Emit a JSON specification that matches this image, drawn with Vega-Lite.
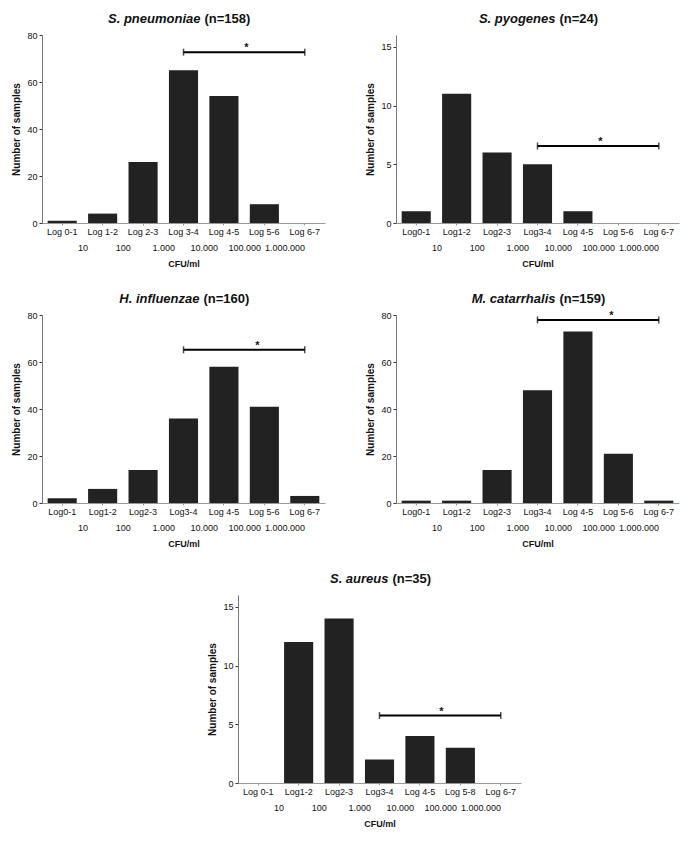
{
 "$schema": "https://vega.github.io/schema/vega-lite/v6.json",
 "background": "white",
 "padding": {"left": 11, "top": 12, "right": 5, "bottom": 5},
 "datasets": {
  "pn": [{"cat":"Log 0-1","n":1},{"cat":"Log 1-2","n":4},{"cat":"Log 2-3","n":26},{"cat":"Log 3-4","n":65},{"cat":"Log 4-5","n":54},{"cat":"Log 5-6","n":8},{"cat":"Log 6-7","n":0}],
  "py": [{"cat":"Log0-1","n":1},{"cat":"Log1-2","n":11},{"cat":"Log2-3","n":6},{"cat":"Log3-4","n":5},{"cat":"Log 4-5","n":1},{"cat":"Log 5-6","n":0},{"cat":"Log 6-7","n":0}],
  "hi": [{"cat":"Log0-1","n":2},{"cat":"Log1-2","n":6},{"cat":"Log2-3","n":14},{"cat":"Log3-4","n":36},{"cat":"Log 4-5","n":58},{"cat":"Log 5-6","n":41},{"cat":"Log 6-7","n":3}],
  "mc": [{"cat":"Log0-1","n":1},{"cat":"Log1-2","n":1},{"cat":"Log2-3","n":14},{"cat":"Log3-4","n":48},{"cat":"Log 4-5","n":73},{"cat":"Log 5-6","n":21},{"cat":"Log 6-7","n":1}],
  "sa": [{"cat":"Log 0-1","n":0},{"cat":"Log1-2","n":12},{"cat":"Log2-3","n":14},{"cat":"Log3-4","n":2},{"cat":"Log 4-5","n":4},{"cat":"Log 5-8","n":3},{"cat":"Log 6-7","n":0}],
  "sig": [
   {"org":"pn","from":"Log 3-4","to":"Log 6-7","mid":"Log 5-6","y":72.7,"star":"*"},
   {"org":"py","from":"Log3-4","to":"Log 6-7","mid":"Log 5-6","y":6.55,"star":"*"},
   {"org":"hi","from":"Log3-4","to":"Log 6-7","mid":"Log 5-6","y":65.2,"star":"*"},
   {"org":"mc","from":"Log3-4","to":"Log 6-7","mid":"Log 5-6","y":77.9,"star":"*"},
   {"org":"sa","from":"Log3-4","to":"Log 6-7","mid":"Log 5-8","y":5.74,"star":"*"}
  ],
  "cfu": [{"v":"10"},{"v":"100"},{"v":"1.000"},{"v":"10.000"},{"v":"100.000"},{"v":"1.000.000"}]
 },
 "config": {
  "font": "Liberation Sans",
  "view": {"stroke": null},
  "axis": {"grid": false, "labelColor": "#111", "titleColor": "#111"}
 },
 "spacing": 24,
 "vconcat": [
  {"hconcat": [
   {"width": 283, "height": 188,
    "layer": [
     {"data": {"name": "pn"}, "mark": {"type": "bar", "color": "#222"},
      "encoding": {
       "x": {"field": "cat", "type": "nominal", "scale": {"domain": ["Log 0-1","Log 1-2","Log 2-3","Log 3-4","Log 4-5","Log 5-6","Log 6-7"], "paddingInner": 0.28, "paddingOuter": 0.14},
             "axis": {"title": null, "labelAngle": 0, "labelFontSize": 9, "labelPadding": 2, "tickSize": 2, "tickColor": "#999", "domainColor": "#999"}},
       "y": {"field": "n", "type": "quantitative", "scale": {"domain": [0, 80]},
             "axis": {"title": "Number of samples", "values": [0,20,40,60,80], "titleFontSize": 10, "titleFontWeight": "bold", "titlePadding": 5, "labelFontSize": 9, "labelPadding": 2, "tickSize": 3, "tickColor": "#333", "domainColor": "#777"}}}},
     {"data": {"name": "sig"}, "transform": [{"filter": "datum.org === 'pn'"}], "mark": {"type": "rule", "color": "#000", "strokeWidth": 2},
      "encoding": {"x": {"field": "from", "type": "nominal", "scale": {"domain": ["Log 0-1","Log 1-2","Log 2-3","Log 3-4","Log 4-5","Log 5-6","Log 6-7"], "paddingInner": 0.28, "paddingOuter": 0.14}, "axis": null}, "x2": {"field": "to"}, "y": {"field": "y", "type": "quantitative"}}},
     {"data": {"name": "sig"}, "transform": [{"filter": "datum.org === 'pn'"}, {"fold": ["from", "to"]}], "mark": {"type": "tick", "orient": "vertical", "color": "#000", "size": 7, "thickness": 1.5},
      "encoding": {"x": {"field": "value", "type": "nominal", "scale": {"domain": ["Log 0-1","Log 1-2","Log 2-3","Log 3-4","Log 4-5","Log 5-6","Log 6-7"], "paddingInner": 0.28, "paddingOuter": 0.14}, "axis": null}, "y": {"field": "y", "type": "quantitative"}}},
     {"data": {"name": "sig"}, "transform": [{"filter": "datum.org === 'pn'"}], "mark": {"type": "text", "fontSize": 11, "fontWeight": "bold", "dx": -18, "dy": -4, "color": "#111"},
      "encoding": {"x": {"field": "mid", "type": "nominal", "scale": {"domain": ["Log 0-1","Log 1-2","Log 2-3","Log 3-4","Log 4-5","Log 5-6","Log 6-7"], "paddingInner": 0.28, "paddingOuter": 0.14}, "axis": null}, "y": {"field": "y", "type": "quantitative"}, "text": {"field": "star"}}},
     {"data": {"name": "cfu"}, "mark": {"type": "point", "opacity": 0},
      "encoding": {"y": {"datum": 0, "type": "quantitative"}, "x": {"field": "v", "type": "nominal", "scale": {"type": "point", "padding": 0, "domain": ["a","10","100","1.000","10.000","100.000","1.000.000","b"]},
       "axis": {"orient": "bottom", "offset": 20, "values": ["10","100","1.000","10.000","100.000","1.000.000"], "domain": false, "ticks": false, "labelPadding": 0, "labelAngle": 0, "labelFontSize": 9, "title": "CFU/ml", "titleFontSize": 9, "titleFontWeight": "bold", "titlePadding": 7}}}},
     {"data": {"name": "cfu"}, "mark": {"type": "point", "opacity": 0},
      "encoding": {"y": {"datum": 0, "type": "quantitative"}, "x": {"field": "v", "type": "nominal", "scale": {"type": "point", "padding": 0},
       "axis": {"orient": "top", "labels": false, "ticks": false, "domain": false, "title": "S. pneumoniae", "titleFontStyle": "italic", "titleFontWeight": "bold", "titleFontSize": 13, "titleAlign": "right", "titleX": 158, "titleY": -13, "titleBaseline": "alphabetic", "titleAngle": 0}}}},
     {"data": {"name": "cfu"}, "mark": {"type": "point", "opacity": 0},
      "encoding": {"y": {"datum": 0, "type": "quantitative"}, "x": {"field": "v", "type": "nominal", "scale": {"type": "point", "padding": 0},
       "axis": {"orient": "top", "labels": false, "ticks": false, "domain": false, "title": "(n=158)", "titleFontWeight": "bold", "titleFontSize": 13, "titleAlign": "left", "titleX": 162, "titleY": -13, "titleBaseline": "alphabetic", "titleAngle": 0}}}}
    ],
    "resolve": {"scale": {"x": "independent"}}},
   {"width": 283, "height": 188,
    "layer": [
     {"data": {"name": "py"}, "mark": {"type": "bar", "color": "#222"},
      "encoding": {
       "x": {"field": "cat", "type": "nominal", "scale": {"domain": ["Log0-1","Log1-2","Log2-3","Log3-4","Log 4-5","Log 5-6","Log 6-7"], "paddingInner": 0.28, "paddingOuter": 0.14},
             "axis": {"title": null, "labelAngle": 0, "labelFontSize": 9, "labelPadding": 2, "tickSize": 2, "tickColor": "#999", "domainColor": "#999"}},
       "y": {"field": "n", "type": "quantitative", "scale": {"domain": [0, 15]},
             "axis": {"title": "Number of samples", "values": [0,5,10,15], "titleFontSize": 10, "titleFontWeight": "bold", "titlePadding": 5, "labelFontSize": 9, "labelPadding": 2, "tickSize": 3, "tickColor": "#333", "domainColor": "#777"}}}},
     {"data": {"name": "sig"}, "transform": [{"filter": "datum.org === 'py'"}], "mark": {"type": "rule", "color": "#000", "strokeWidth": 2},
      "encoding": {"x": {"field": "from", "type": "nominal", "scale": {"domain": ["Log0-1","Log1-2","Log2-3","Log3-4","Log 4-5","Log 5-6","Log 6-7"], "paddingInner": 0.28, "paddingOuter": 0.14}, "axis": null}, "x2": {"field": "to"}, "y": {"field": "y", "type": "quantitative"}}},
     {"data": {"name": "sig"}, "transform": [{"filter": "datum.org === 'py'"}, {"fold": ["from", "to"]}], "mark": {"type": "tick", "orient": "vertical", "color": "#000", "size": 7, "thickness": 1.5},
      "encoding": {"x": {"field": "value", "type": "nominal", "scale": {"domain": ["Log0-1","Log1-2","Log2-3","Log3-4","Log 4-5","Log 5-6","Log 6-7"], "paddingInner": 0.28, "paddingOuter": 0.14}, "axis": null}, "y": {"field": "y", "type": "quantitative"}}},
     {"data": {"name": "sig"}, "transform": [{"filter": "datum.org === 'py'"}], "mark": {"type": "text", "fontSize": 11, "fontWeight": "bold", "dx": -18, "dy": -4, "color": "#111"},
      "encoding": {"x": {"field": "mid", "type": "nominal", "scale": {"domain": ["Log0-1","Log1-2","Log2-3","Log3-4","Log 4-5","Log 5-6","Log 6-7"], "paddingInner": 0.28, "paddingOuter": 0.14}, "axis": null}, "y": {"field": "y", "type": "quantitative"}, "text": {"field": "star"}}},
     {"data": {"name": "cfu"}, "mark": {"type": "point", "opacity": 0},
      "encoding": {"y": {"datum": 0, "type": "quantitative"}, "x": {"field": "v", "type": "nominal", "scale": {"type": "point", "padding": 0, "domain": ["a","10","100","1.000","10.000","100.000","1.000.000","b"]},
       "axis": {"orient": "bottom", "offset": 20, "values": ["10","100","1.000","10.000","100.000","1.000.000"], "domain": false, "ticks": false, "labelPadding": 0, "labelAngle": 0, "labelFontSize": 9, "title": "CFU/ml", "titleFontSize": 9, "titleFontWeight": "bold", "titlePadding": 7}}}},
     {"data": {"name": "cfu"}, "mark": {"type": "point", "opacity": 0},
      "encoding": {"y": {"datum": 0, "type": "quantitative"}, "x": {"field": "v", "type": "nominal", "scale": {"type": "point", "padding": 0},
       "axis": {"orient": "top", "labels": false, "ticks": false, "domain": false, "title": "S. pyogenes", "titleFontStyle": "italic", "titleFontWeight": "bold", "titleFontSize": 13, "titleAlign": "right", "titleX": 159, "titleY": -13, "titleBaseline": "alphabetic", "titleAngle": 0}}}},
     {"data": {"name": "cfu"}, "mark": {"type": "point", "opacity": 0},
      "encoding": {"y": {"datum": 0, "type": "quantitative"}, "x": {"field": "v", "type": "nominal", "scale": {"type": "point", "padding": 0},
       "axis": {"orient": "top", "labels": false, "ticks": false, "domain": false, "title": "(n=24)", "titleFontWeight": "bold", "titleFontSize": 13, "titleAlign": "left", "titleX": 163, "titleY": -13, "titleBaseline": "alphabetic", "titleAngle": 0}}}}
    ],
    "resolve": {"scale": {"x": "independent"}}}
  ], "spacing": 37},
  {"hconcat": [
   {"width": 283, "height": 188,
    "layer": [
     {"data": {"name": "hi"}, "mark": {"type": "bar", "color": "#222"},
      "encoding": {
       "x": {"field": "cat", "type": "nominal", "scale": {"domain": ["Log0-1","Log1-2","Log2-3","Log3-4","Log 4-5","Log 5-6","Log 6-7"], "paddingInner": 0.28, "paddingOuter": 0.14},
             "axis": {"title": null, "labelAngle": 0, "labelFontSize": 9, "labelPadding": 2, "tickSize": 2, "tickColor": "#999", "domainColor": "#999"}},
       "y": {"field": "n", "type": "quantitative", "scale": {"domain": [0, 80]},
             "axis": {"title": "Number of samples", "values": [0,20,40,60,80], "titleFontSize": 10, "titleFontWeight": "bold", "titlePadding": 5, "labelFontSize": 9, "labelPadding": 2, "tickSize": 3, "tickColor": "#333", "domainColor": "#777"}}}},
     {"data": {"name": "sig"}, "transform": [{"filter": "datum.org === 'hi'"}], "mark": {"type": "rule", "color": "#000", "strokeWidth": 2},
      "encoding": {"x": {"field": "from", "type": "nominal", "scale": {"domain": ["Log0-1","Log1-2","Log2-3","Log3-4","Log 4-5","Log 5-6","Log 6-7"], "paddingInner": 0.28, "paddingOuter": 0.14}, "axis": null}, "x2": {"field": "to"}, "y": {"field": "y", "type": "quantitative"}}},
     {"data": {"name": "sig"}, "transform": [{"filter": "datum.org === 'hi'"}, {"fold": ["from", "to"]}], "mark": {"type": "tick", "orient": "vertical", "color": "#000", "size": 7, "thickness": 1.5},
      "encoding": {"x": {"field": "value", "type": "nominal", "scale": {"domain": ["Log0-1","Log1-2","Log2-3","Log3-4","Log 4-5","Log 5-6","Log 6-7"], "paddingInner": 0.28, "paddingOuter": 0.14}, "axis": null}, "y": {"field": "y", "type": "quantitative"}}},
     {"data": {"name": "sig"}, "transform": [{"filter": "datum.org === 'hi'"}], "mark": {"type": "text", "fontSize": 11, "fontWeight": "bold", "dx": -7, "dy": -4, "color": "#111"},
      "encoding": {"x": {"field": "mid", "type": "nominal", "scale": {"domain": ["Log0-1","Log1-2","Log2-3","Log3-4","Log 4-5","Log 5-6","Log 6-7"], "paddingInner": 0.28, "paddingOuter": 0.14}, "axis": null}, "y": {"field": "y", "type": "quantitative"}, "text": {"field": "star"}}},
     {"data": {"name": "cfu"}, "mark": {"type": "point", "opacity": 0},
      "encoding": {"y": {"datum": 0, "type": "quantitative"}, "x": {"field": "v", "type": "nominal", "scale": {"type": "point", "padding": 0, "domain": ["a","10","100","1.000","10.000","100.000","1.000.000","b"]},
       "axis": {"orient": "bottom", "offset": 20, "values": ["10","100","1.000","10.000","100.000","1.000.000"], "domain": false, "ticks": false, "labelPadding": 0, "labelAngle": 0, "labelFontSize": 9, "title": "CFU/ml", "titleFontSize": 9, "titleFontWeight": "bold", "titlePadding": 7}}}},
     {"data": {"name": "cfu"}, "mark": {"type": "point", "opacity": 0},
      "encoding": {"y": {"datum": 0, "type": "quantitative"}, "x": {"field": "v", "type": "nominal", "scale": {"type": "point", "padding": 0},
       "axis": {"orient": "top", "labels": false, "ticks": false, "domain": false, "title": "H. influenzae", "titleFontStyle": "italic", "titleFontWeight": "bold", "titleFontSize": 13, "titleAlign": "right", "titleX": 157, "titleY": -13, "titleBaseline": "alphabetic", "titleAngle": 0}}}},
     {"data": {"name": "cfu"}, "mark": {"type": "point", "opacity": 0},
      "encoding": {"y": {"datum": 0, "type": "quantitative"}, "x": {"field": "v", "type": "nominal", "scale": {"type": "point", "padding": 0},
       "axis": {"orient": "top", "labels": false, "ticks": false, "domain": false, "title": "(n=160)", "titleFontWeight": "bold", "titleFontSize": 13, "titleAlign": "left", "titleX": 161, "titleY": -13, "titleBaseline": "alphabetic", "titleAngle": 0}}}}
    ],
    "resolve": {"scale": {"x": "independent"}}},
   {"width": 283, "height": 188,
    "layer": [
     {"data": {"name": "mc"}, "mark": {"type": "bar", "color": "#222"},
      "encoding": {
       "x": {"field": "cat", "type": "nominal", "scale": {"domain": ["Log0-1","Log1-2","Log2-3","Log3-4","Log 4-5","Log 5-6","Log 6-7"], "paddingInner": 0.28, "paddingOuter": 0.14},
             "axis": {"title": null, "labelAngle": 0, "labelFontSize": 9, "labelPadding": 2, "tickSize": 2, "tickColor": "#999", "domainColor": "#999"}},
       "y": {"field": "n", "type": "quantitative", "scale": {"domain": [0, 80]},
             "axis": {"title": "Number of samples", "values": [0,20,40,60,80], "titleFontSize": 10, "titleFontWeight": "bold", "titlePadding": 5, "labelFontSize": 9, "labelPadding": 2, "tickSize": 3, "tickColor": "#333", "domainColor": "#777"}}}},
     {"data": {"name": "sig"}, "transform": [{"filter": "datum.org === 'mc'"}], "mark": {"type": "rule", "color": "#000", "strokeWidth": 2},
      "encoding": {"x": {"field": "from", "type": "nominal", "scale": {"domain": ["Log0-1","Log1-2","Log2-3","Log3-4","Log 4-5","Log 5-6","Log 6-7"], "paddingInner": 0.28, "paddingOuter": 0.14}, "axis": null}, "x2": {"field": "to"}, "y": {"field": "y", "type": "quantitative"}}},
     {"data": {"name": "sig"}, "transform": [{"filter": "datum.org === 'mc'"}, {"fold": ["from", "to"]}], "mark": {"type": "tick", "orient": "vertical", "color": "#000", "size": 7, "thickness": 1.5},
      "encoding": {"x": {"field": "value", "type": "nominal", "scale": {"domain": ["Log0-1","Log1-2","Log2-3","Log3-4","Log 4-5","Log 5-6","Log 6-7"], "paddingInner": 0.28, "paddingOuter": 0.14}, "axis": null}, "y": {"field": "y", "type": "quantitative"}}},
     {"data": {"name": "sig"}, "transform": [{"filter": "datum.org === 'mc'"}], "mark": {"type": "text", "fontSize": 11, "fontWeight": "bold", "dx": -7, "dy": -4, "color": "#111"},
      "encoding": {"x": {"field": "mid", "type": "nominal", "scale": {"domain": ["Log0-1","Log1-2","Log2-3","Log3-4","Log 4-5","Log 5-6","Log 6-7"], "paddingInner": 0.28, "paddingOuter": 0.14}, "axis": null}, "y": {"field": "y", "type": "quantitative"}, "text": {"field": "star"}}},
     {"data": {"name": "cfu"}, "mark": {"type": "point", "opacity": 0},
      "encoding": {"y": {"datum": 0, "type": "quantitative"}, "x": {"field": "v", "type": "nominal", "scale": {"type": "point", "padding": 0, "domain": ["a","10","100","1.000","10.000","100.000","1.000.000","b"]},
       "axis": {"orient": "bottom", "offset": 20, "values": ["10","100","1.000","10.000","100.000","1.000.000"], "domain": false, "ticks": false, "labelPadding": 0, "labelAngle": 0, "labelFontSize": 9, "title": "CFU/ml", "titleFontSize": 9, "titleFontWeight": "bold", "titlePadding": 7}}}},
     {"data": {"name": "cfu"}, "mark": {"type": "point", "opacity": 0},
      "encoding": {"y": {"datum": 0, "type": "quantitative"}, "x": {"field": "v", "type": "nominal", "scale": {"type": "point", "padding": 0},
       "axis": {"orient": "top", "labels": false, "ticks": false, "domain": false, "title": "M. catarrhalis", "titleFontStyle": "italic", "titleFontWeight": "bold", "titleFontSize": 13, "titleAlign": "right", "titleX": 159, "titleY": -13, "titleBaseline": "alphabetic", "titleAngle": 0}}}},
     {"data": {"name": "cfu"}, "mark": {"type": "point", "opacity": 0},
      "encoding": {"y": {"datum": 0, "type": "quantitative"}, "x": {"field": "v", "type": "nominal", "scale": {"type": "point", "padding": 0},
       "axis": {"orient": "top", "labels": false, "ticks": false, "domain": false, "title": "(n=159)", "titleFontWeight": "bold", "titleFontSize": 13, "titleAlign": "left", "titleX": 163, "titleY": -13, "titleBaseline": "alphabetic", "titleAngle": 0}}}}
    ],
    "resolve": {"scale": {"x": "independent"}}}
  ], "spacing": 37},
  {"hconcat": [
   {"width": 145, "height": 10, "data": {"values": []}, "mark": {"type": "point", "opacity": 0},
    "encoding": {"x": {"datum": 0, "type": "quantitative", "axis": null}, "y": {"datum": 0, "type": "quantitative", "axis": null}}},
   {"width": 283, "height": 188,
    "layer": [
     {"data": {"name": "sa"}, "mark": {"type": "bar", "color": "#222"},
      "encoding": {
       "x": {"field": "cat", "type": "nominal", "scale": {"domain": ["Log 0-1","Log1-2","Log2-3","Log3-4","Log 4-5","Log 5-8","Log 6-7"], "paddingInner": 0.28, "paddingOuter": 0.14},
             "axis": {"title": null, "labelAngle": 0, "labelFontSize": 9, "labelPadding": 2, "tickSize": 2, "tickColor": "#999", "domainColor": "#999"}},
       "y": {"field": "n", "type": "quantitative", "scale": {"domain": [0, 15]},
             "axis": {"title": "Number of samples", "values": [0,5,10,15], "titleFontSize": 10, "titleFontWeight": "bold", "titlePadding": 5, "labelFontSize": 9, "labelPadding": 2, "tickSize": 3, "tickColor": "#333", "domainColor": "#777"}}}},
     {"data": {"name": "sig"}, "transform": [{"filter": "datum.org === 'sa'"}], "mark": {"type": "rule", "color": "#000", "strokeWidth": 2},
      "encoding": {"x": {"field": "from", "type": "nominal", "scale": {"domain": ["Log 0-1","Log1-2","Log2-3","Log3-4","Log 4-5","Log 5-8","Log 6-7"], "paddingInner": 0.28, "paddingOuter": 0.14}, "axis": null}, "x2": {"field": "to"}, "y": {"field": "y", "type": "quantitative"}}},
     {"data": {"name": "sig"}, "transform": [{"filter": "datum.org === 'sa'"}, {"fold": ["from", "to"]}], "mark": {"type": "tick", "orient": "vertical", "color": "#000", "size": 7, "thickness": 1.5},
      "encoding": {"x": {"field": "value", "type": "nominal", "scale": {"domain": ["Log 0-1","Log1-2","Log2-3","Log3-4","Log 4-5","Log 5-8","Log 6-7"], "paddingInner": 0.28, "paddingOuter": 0.14}, "axis": null}, "y": {"field": "y", "type": "quantitative"}}},
     {"data": {"name": "sig"}, "transform": [{"filter": "datum.org === 'sa'"}], "mark": {"type": "text", "fontSize": 11, "fontWeight": "bold", "dx": -19, "dy": -4, "color": "#111"},
      "encoding": {"x": {"field": "mid", "type": "nominal", "scale": {"domain": ["Log 0-1","Log1-2","Log2-3","Log3-4","Log 4-5","Log 5-8","Log 6-7"], "paddingInner": 0.28, "paddingOuter": 0.14}, "axis": null}, "y": {"field": "y", "type": "quantitative"}, "text": {"field": "star"}}},
     {"data": {"name": "cfu"}, "mark": {"type": "point", "opacity": 0},
      "encoding": {"y": {"datum": 0, "type": "quantitative"}, "x": {"field": "v", "type": "nominal", "scale": {"type": "point", "padding": 0, "domain": ["a","10","100","1.000","10.000","100.000","1.000.000","b"]},
       "axis": {"orient": "bottom", "offset": 20, "values": ["10","100","1.000","10.000","100.000","1.000.000"], "domain": false, "ticks": false, "labelPadding": 0, "labelAngle": 0, "labelFontSize": 9, "title": "CFU/ml", "titleFontSize": 9, "titleFontWeight": "bold", "titlePadding": 7}}}},
     {"data": {"name": "cfu"}, "mark": {"type": "point", "opacity": 0},
      "encoding": {"y": {"datum": 0, "type": "quantitative"}, "x": {"field": "v", "type": "nominal", "scale": {"type": "point", "padding": 0},
       "axis": {"orient": "top", "labels": false, "ticks": false, "domain": false, "title": "S. aureus", "titleFontStyle": "italic", "titleFontWeight": "bold", "titleFontSize": 13, "titleAlign": "right", "titleX": 150, "titleY": -13, "titleBaseline": "alphabetic", "titleAngle": 0}}}},
     {"data": {"name": "cfu"}, "mark": {"type": "point", "opacity": 0},
      "encoding": {"y": {"datum": 0, "type": "quantitative"}, "x": {"field": "v", "type": "nominal", "scale": {"type": "point", "padding": 0},
       "axis": {"orient": "top", "labels": false, "ticks": false, "domain": false, "title": "(n=35)", "titleFontWeight": "bold", "titleFontSize": 13, "titleAlign": "left", "titleX": 154, "titleY": -13, "titleBaseline": "alphabetic", "titleAngle": 0}}}}
    ],
    "resolve": {"scale": {"x": "independent"}}}
  ], "spacing": 20}
 ]
}
